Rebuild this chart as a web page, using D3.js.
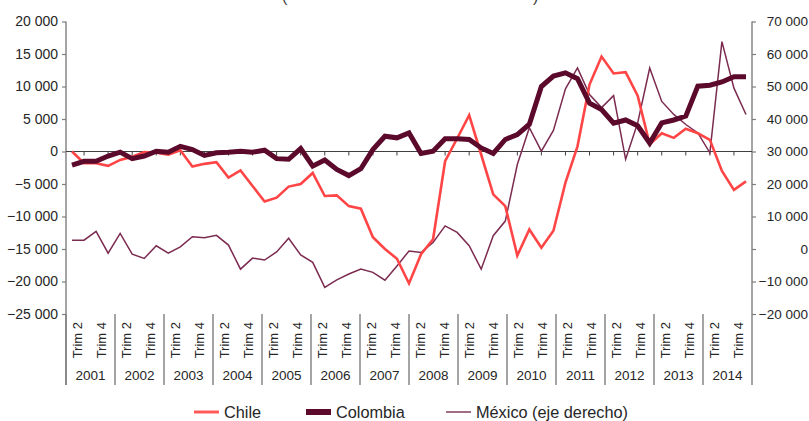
<!DOCTYPE html>
<html>
<head>
<meta charset="utf-8">
<script src="https://cdn.jsdelivr.net/npm/d3@7"></script>
<style>
	body { margin: 0; background: #fff; }
	svg { font-family: "Liberation Sans", Arial, sans-serif; }
</style>
</head>
<body>
<svg id="chart" width="809" height="421"></svg>
<script>
var years = ["2001", "2002", "2003", "2004", "2005", "2006", "2007", "2008", "2009", "2010", "2011", "2012", "2013", "2014"];
var quarterLabels = ["", "Trim 2", "", "Trim 4"];
var leftTicks = [-25000, -20000, -15000, -10000, -5000, 0, 5000, 10000, 15000, 20000];
var rightTicks = [-20000, -10000, 0, 10000, 20000, 30000, 40000, 50000, 60000, 70000];

// las series tienen 57 observaciones repartidas sobre el eje
var chile = [0, -1800, -1800, -2200, -1300, -800, -100, -200, -500, 200,
	-2300, -1900, -1650, -4000, -2900, -5300, -7700, -7100, -5400, -5000,
	-3300, -6850, -6750, -8400, -8800, -13200, -15000, -16500, -20300, -15800,
	-13500, -1500, 2000, 5600, -500, -6600, -8400, -16000, -12000, -14800,
	-12200, -4800, 800, 10300, 14600, 12000, 12200, 8600, 1100, 2800,
	2100, 3500, 2800, 1800, -3000, -5900, -4600];
var colombia = [-2100, -1500, -1500, -700, -100, -1100, -700, 50, -100, 800,
	300, -600, -200, -100, 50, -100, 200, -1100, -1200, 450,
	-2250, -1300, -2750, -3700, -2650, 300, 2350, 2100, 2850, -300,
	50, 1950, 1950, 1850, 550, -300, 1850, 2600, 4200, 10000,
	11600, 12100, 11200, 7450, 6450, 4350, 4850, 3950, 1300, 4400,
	4850, 5450, 10050, 10200, 10700, 11500, 11500];
var mexico = [2700, 2700, 5400, -1300, 4800, -1600, -2900, 1000, -1300, 650,
	3800, 3500, 4200, 1200, -6200, -2800, -3400, -900, 3300, -1800,
	-4100, -11800, -9500, -7700, -6200, -7200, -9600, -5200, -600, -1100,
	2000, 7100, 5100, 1000, -6200, 4100, 8600, 26000, 37300, 30100,
	36500, 49300, 55700, 47500, 43500, 47200, 27600, 38800, 55700, 45400,
	41400, 38300, 35700, 29600, 63800, 49500, 41400];

var svg = d3.select("#chart");
var margin = {top: 21.5, right: 57, bottom: 107, left: 66},
	width = +svg.attr("width") - margin.left - margin.right,
	height = +svg.attr("height") - margin.top - margin.bottom;

var quarters = [];
years.forEach(function (y) {
	for (var q = 0; q < 4; q++) quarters.push({year: y, q: q, key: y + "-" + (q + 1)});
});
var periods = ["2000-4"].concat(quarters.map(function (d) { return d.key; }));

// escala de etiquetas (56 trimestres) y escala de las observaciones (57 puntos)
var x = d3.scaleBand()
	.domain(quarters.map(function (d) { return d.key; }))
	.range([0, width]);
var xp = d3.scalePoint()
	.domain(periods)
	.range([0, width])
	.padding(0.5);
var yLeft = d3.scaleLinear().domain([-25000, 20000]).range([height, 0]);
var yRight = d3.scaleLinear().domain([-20000, 70000]).range([height, 0]);

var fmt = function (d) { return d3.format(",")(d).replace(/,/g, " "); };

var g = svg.append("g").attr("transform", "translate(" + margin.left + "," + margin.top + ")");

// eje izquierdo
var axL = g.append("g")
	.attr("class", "y axis")
	.call(d3.axisLeft(yLeft).tickValues(leftTicks).tickSize(4).tickPadding(4).tickFormat(fmt));
axL.select(".domain").remove();
axL.selectAll("line").attr("stroke", "#7f7f7f").attr("stroke-width", 1.2);
axL.selectAll("text").attr("font-size", "14px").attr("fill", "#262626");

// eje derecho (etiquetas alineadas a la derecha, casi en el borde)
var axR = g.append("g")
	.attr("class", "y axis")
	.attr("transform", "translate(" + width + ",0)")
	.call(d3.axisRight(yRight).tickValues(rightTicks).tickSize(4).tickFormat(fmt));
axR.select(".domain").remove();
axR.selectAll("line").attr("stroke", "#7f7f7f").attr("stroke-width", 1.2);
axR.selectAll("text")
	.attr("font-size", "13.5px")
	.attr("fill", "#262626")
	.attr("text-anchor", "end")
	.attr("x", 809 - margin.left - width - 1);

// lineas verticales de ejes, prolongadas hasta la zona de anios
g.append("line").attr("x1", 0).attr("x2", 0).attr("y1", 0).attr("y2", height + 71)
	.attr("stroke", "#7f7f7f").attr("stroke-width", 1.4);
g.append("line").attr("x1", width).attr("x2", width).attr("y1", 0).attr("y2", height)
	.attr("stroke", "#7f7f7f").attr("stroke-width", 1.4);

// eje de categorias en cero, marcas cada dos observaciones
g.append("line")
	.attr("x1", 0).attr("x2", width)
	.attr("y1", yLeft(0)).attr("y2", yLeft(0))
	.attr("stroke", "#404040").attr("stroke-width", 1.2);
g.selectAll(".zt")
	.data(periods.filter(function (d, i) { return i % 2 == 1; }))
	.enter().append("line")
	.attr("class", "zt")
	.attr("x1", function (d) { return xp(d); })
	.attr("x2", function (d) { return xp(d); })
	.attr("y1", yLeft(0)).attr("y2", yLeft(0) + 4)
	.attr("stroke", "#404040").attr("stroke-width", 1);

// etiquetas de trimestre
g.selectAll(".ql")
	.data(quarters.filter(function (d) { return quarterLabels[d.q] != ""; }))
	.enter().append("text")
	.attr("class", "ql")
	.attr("transform", function (d) {
		return "translate(" + (x(d.key) + x.bandwidth() / 2 - 2.5) + "," + (height + 8) + ") rotate(-90)";
	})
	.attr("text-anchor", "end")
	.attr("font-size", "13px")
	.attr("fill", "#262626")
	.text(function (d) { return quarterLabels[d.q]; });

// separadores y etiquetas de anio
var yearW = x.bandwidth() * 4;
g.selectAll(".ysep")
	.data(d3.range(years.length + 1))
	.enter().append("line")
	.attr("class", "ysep")
	.attr("x1", function (i) { return i * yearW; })
	.attr("x2", function (i) { return i * yearW; })
	.attr("y1", height).attr("y2", height + 71)
	.attr("stroke", "#7f7f7f").attr("stroke-width", 1.4);
g.selectAll(".yl")
	.data(years)
	.enter().append("text")
	.attr("class", "yl")
	.attr("x", function (d, i) { return (i + 0.5) * yearW; })
	.attr("y", height + 66)
	.attr("text-anchor", "middle")
	.attr("font-size", "13.5px")
	.attr("fill", "#262626")
	.text(function (d) { return d; });

// series
var lineL = d3.line()
	.x(function (d, i) { return xp(periods[i]); })
	.y(function (d) { return yLeft(d); });
var lineR = d3.line()
	.x(function (d, i) { return xp(periods[i]); })
	.y(function (d) { return yRight(d); });

g.append("path").datum(mexico)
	.attr("fill", "none").attr("stroke", "#7b2b50").attr("stroke-width", 1.5)
	.attr("stroke-linejoin", "miter").attr("d", lineR);
g.append("path").datum(chile)
	.attr("fill", "none").attr("stroke", "#ff4545").attr("stroke-width", 2.6)
	.attr("stroke-linejoin", "miter").attr("d", lineL);
g.append("path").datum(colombia)
	.attr("fill", "none").attr("stroke", "#5c0a2c").attr("stroke-width", 5)
	.attr("stroke-linejoin", "miter").attr("d", lineL);

// titulo cortado por el borde superior
svg.append("text").attr("x", 282).attr("y", 2).attr("font-size", "16px").attr("fill", "#404040").text("(");
svg.append("text").attr("x", 533).attr("y", 2).attr("font-size", "16px").attr("fill", "#404040").text(")");

// leyenda
var legend = [
	{name: "Chile", color: "#ff5a5a", w: 3, x: 194},
	{name: "Colombia", color: "#5c0a2c", w: 6, x: 306},
	{name: "México (eje derecho)", color: "#8a4866", w: 1.6, x: 446}
];
var lg = svg.selectAll(".lg").data(legend).enter().append("g").attr("class", "lg");
lg.append("line")
	.attr("x1", function (d) { return d.x; })
	.attr("x2", function (d) { return d.x + 25; })
	.attr("y1", 412).attr("y2", 412)
	.attr("stroke", function (d) { return d.color; })
	.attr("stroke-width", function (d) { return d.w; });
lg.append("text")
	.attr("x", function (d) { return d.x + 30; })
	.attr("y", 418)
	.attr("font-size", "16.3px")
	.attr("fill", "#262626")
	.text(function (d) { return d.name; });
</script>
</body>
</html>
